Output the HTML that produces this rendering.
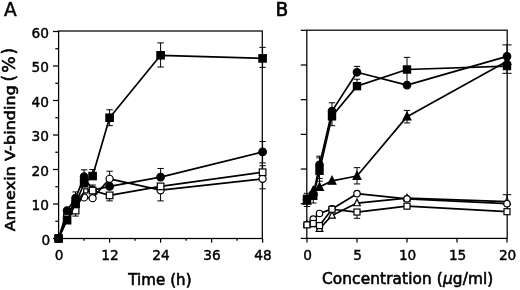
<!DOCTYPE html>
<html><head><meta charset="utf-8"><title>Figure</title>
<style>html,body{margin:0;padding:0;background:#fff}svg{display:block;will-change:transform}</style>
</head><body>
<svg width="520" height="290" viewBox="0 0 520 290" font-family="'DejaVu Sans', 'Liberation Sans', sans-serif" fill="#000" stroke="#000" stroke-width="0">
<rect width="520" height="290" fill="#fff"/>
<rect x="58.60" y="31.00" width="203.70" height="207.50" fill="none" stroke="#000" stroke-width="1.25"/>
<line x1="53.00" y1="238.50" x2="58.60" y2="238.50" stroke="#000" stroke-width="1.25"/>
<text x="50.2" y="244.70" font-size="13.7" text-anchor="end" stroke-width="0.42">0</text>
<line x1="55.30" y1="221.25" x2="58.60" y2="221.25" stroke="#000" stroke-width="1.25"/>
<line x1="53.00" y1="204.00" x2="58.60" y2="204.00" stroke="#000" stroke-width="1.25"/>
<text x="49.0" y="210.20" font-size="13.7" text-anchor="end" stroke-width="0.42">10</text>
<line x1="55.30" y1="186.75" x2="58.60" y2="186.75" stroke="#000" stroke-width="1.25"/>
<line x1="53.00" y1="169.50" x2="58.60" y2="169.50" stroke="#000" stroke-width="1.25"/>
<text x="49.0" y="175.70" font-size="13.7" text-anchor="end" stroke-width="0.42">20</text>
<line x1="55.30" y1="152.25" x2="58.60" y2="152.25" stroke="#000" stroke-width="1.25"/>
<line x1="53.00" y1="135.00" x2="58.60" y2="135.00" stroke="#000" stroke-width="1.25"/>
<text x="49.0" y="141.20" font-size="13.7" text-anchor="end" stroke-width="0.42">30</text>
<line x1="55.30" y1="117.75" x2="58.60" y2="117.75" stroke="#000" stroke-width="1.25"/>
<line x1="53.00" y1="100.50" x2="58.60" y2="100.50" stroke="#000" stroke-width="1.25"/>
<text x="49.0" y="106.70" font-size="13.7" text-anchor="end" stroke-width="0.42">40</text>
<line x1="55.30" y1="83.25" x2="58.60" y2="83.25" stroke="#000" stroke-width="1.25"/>
<line x1="53.00" y1="66.00" x2="58.60" y2="66.00" stroke="#000" stroke-width="1.25"/>
<text x="49.0" y="72.20" font-size="13.7" text-anchor="end" stroke-width="0.42">50</text>
<line x1="55.30" y1="48.75" x2="58.60" y2="48.75" stroke="#000" stroke-width="1.25"/>
<line x1="53.00" y1="31.50" x2="58.60" y2="31.50" stroke="#000" stroke-width="1.25"/>
<text x="49.0" y="37.70" font-size="13.7" text-anchor="end" stroke-width="0.42">60</text>
<line x1="58.60" y1="238.50" x2="58.60" y2="242.70" stroke="#000" stroke-width="1.25"/>
<text x="59.00" y="260.4" font-size="13.7" text-anchor="middle" stroke-width="0.42">0</text>
<line x1="84.10" y1="238.50" x2="84.10" y2="240.70" stroke="#000" stroke-width="1.25"/>
<line x1="109.60" y1="238.50" x2="109.60" y2="242.70" stroke="#000" stroke-width="1.25"/>
<text x="110.00" y="260.4" font-size="13.7" text-anchor="middle" stroke-width="0.42">12</text>
<line x1="135.10" y1="238.50" x2="135.10" y2="240.70" stroke="#000" stroke-width="1.25"/>
<line x1="160.60" y1="238.50" x2="160.60" y2="242.70" stroke="#000" stroke-width="1.25"/>
<text x="161.00" y="260.4" font-size="13.7" text-anchor="middle" stroke-width="0.42">24</text>
<line x1="186.10" y1="238.50" x2="186.10" y2="240.70" stroke="#000" stroke-width="1.25"/>
<line x1="211.60" y1="238.50" x2="211.60" y2="242.70" stroke="#000" stroke-width="1.25"/>
<text x="212.00" y="260.4" font-size="13.7" text-anchor="middle" stroke-width="0.42">36</text>
<line x1="237.10" y1="238.50" x2="237.10" y2="240.70" stroke="#000" stroke-width="1.25"/>
<line x1="262.60" y1="238.50" x2="262.60" y2="242.70" stroke="#000" stroke-width="1.25"/>
<text x="263.00" y="260.4" font-size="13.7" text-anchor="middle" stroke-width="0.42">48</text>
<rect x="306.80" y="30.20" width="200.40" height="208.20" fill="none" stroke="#000" stroke-width="1.25"/>
<line x1="300.80" y1="238.40" x2="306.80" y2="238.40" stroke="#000" stroke-width="1.25"/>
<line x1="300.80" y1="203.72" x2="306.80" y2="203.72" stroke="#000" stroke-width="1.25"/>
<line x1="300.80" y1="169.04" x2="306.80" y2="169.04" stroke="#000" stroke-width="1.25"/>
<line x1="300.80" y1="134.36" x2="306.80" y2="134.36" stroke="#000" stroke-width="1.25"/>
<line x1="300.80" y1="99.68" x2="306.80" y2="99.68" stroke="#000" stroke-width="1.25"/>
<line x1="300.80" y1="65.00" x2="306.80" y2="65.00" stroke="#000" stroke-width="1.25"/>
<line x1="300.80" y1="30.32" x2="306.80" y2="30.32" stroke="#000" stroke-width="1.25"/>
<line x1="307.00" y1="238.40" x2="307.00" y2="242.60" stroke="#000" stroke-width="1.25"/>
<text x="307.60" y="260.4" font-size="13.7" text-anchor="middle" stroke-width="0.42">0</text>
<line x1="357.00" y1="238.40" x2="357.00" y2="242.60" stroke="#000" stroke-width="1.25"/>
<text x="357.60" y="260.4" font-size="13.7" text-anchor="middle" stroke-width="0.42">5</text>
<line x1="407.00" y1="238.40" x2="407.00" y2="242.60" stroke="#000" stroke-width="1.25"/>
<text x="407.60" y="260.4" font-size="13.7" text-anchor="middle" stroke-width="0.42">10</text>
<line x1="457.00" y1="238.40" x2="457.00" y2="242.60" stroke="#000" stroke-width="1.25"/>
<text x="457.60" y="260.4" font-size="13.7" text-anchor="middle" stroke-width="0.42">15</text>
<line x1="507.00" y1="238.40" x2="507.00" y2="242.60" stroke="#000" stroke-width="1.25"/>
<text x="507.60" y="260.4" font-size="13.7" text-anchor="middle" stroke-width="0.42">20</text>
<polyline points="58.60,238.50 67.10,214.69 75.60,201.93 84.10,197.44 92.60,198.13 109.60,178.81 160.60,190.20 262.60,178.81" fill="none" stroke="#000" stroke-width="1.7" stroke-linejoin="round"/>
<path d="M109.60,178.81V171.22M106.40,171.22H112.80" stroke="#000" stroke-width="1.0" fill="none"/>
<path d="M160.60,190.20V200.89M157.40,200.89H163.80" stroke="#000" stroke-width="1.0" fill="none"/>
<path d="M262.60,178.81V188.82M259.40,188.82H265.80" stroke="#000" stroke-width="1.0" fill="none"/>
<circle cx="58.60" cy="238.50" r="3.55" fill="#fff" stroke="#000" stroke-width="1.2"/>
<circle cx="67.10" cy="214.69" r="3.55" fill="#fff" stroke="#000" stroke-width="1.2"/>
<circle cx="75.60" cy="201.93" r="3.55" fill="#fff" stroke="#000" stroke-width="1.2"/>
<circle cx="84.10" cy="197.44" r="3.55" fill="#fff" stroke="#000" stroke-width="1.2"/>
<circle cx="92.60" cy="198.13" r="3.55" fill="#fff" stroke="#000" stroke-width="1.2"/>
<circle cx="109.60" cy="178.81" r="3.55" fill="#fff" stroke="#000" stroke-width="1.2"/>
<circle cx="160.60" cy="190.20" r="3.55" fill="#fff" stroke="#000" stroke-width="1.2"/>
<circle cx="262.60" cy="178.81" r="3.55" fill="#fff" stroke="#000" stroke-width="1.2"/>
<polyline points="58.60,238.50 67.10,210.56 75.60,198.13 84.10,176.75 92.60,190.20 109.60,186.41 160.60,177.09 262.60,151.90" fill="none" stroke="#000" stroke-width="1.7" stroke-linejoin="round"/>
<path d="M75.60,198.13V191.93M72.40,191.93H78.80" stroke="#000" stroke-width="1.0" fill="none"/>
<path d="M84.10,176.75V169.84M80.90,169.84H87.30" stroke="#000" stroke-width="1.0" fill="none"/>
<path d="M160.60,177.09V168.46M157.40,168.46H163.80" stroke="#000" stroke-width="1.0" fill="none"/>
<path d="M262.60,151.90V141.56M259.40,141.56H265.80" stroke="#000" stroke-width="1.0" fill="none"/>
<path d="M262.60,151.90V162.94M259.40,162.94H265.80" stroke="#000" stroke-width="1.0" fill="none"/>
<circle cx="58.60" cy="238.50" r="3.80" fill="#000" stroke="#000" stroke-width="1.2"/>
<circle cx="67.10" cy="210.56" r="3.80" fill="#000" stroke="#000" stroke-width="1.2"/>
<circle cx="75.60" cy="198.13" r="3.80" fill="#000" stroke="#000" stroke-width="1.2"/>
<circle cx="84.10" cy="176.75" r="3.80" fill="#000" stroke="#000" stroke-width="1.2"/>
<circle cx="92.60" cy="190.20" r="3.80" fill="#000" stroke="#000" stroke-width="1.2"/>
<circle cx="109.60" cy="186.41" r="3.80" fill="#000" stroke="#000" stroke-width="1.2"/>
<circle cx="160.60" cy="177.09" r="3.80" fill="#000" stroke="#000" stroke-width="1.2"/>
<circle cx="262.60" cy="151.90" r="3.80" fill="#000" stroke="#000" stroke-width="1.2"/>
<polyline points="58.60,238.50 67.10,218.14 75.60,210.56 84.10,191.58 92.60,190.54 109.60,195.38 160.60,186.41 262.60,172.26" fill="none" stroke="#000" stroke-width="1.7" stroke-linejoin="round"/>
<path d="M75.60,210.56V216.07M72.40,216.07H78.80" stroke="#000" stroke-width="1.0" fill="none"/>
<path d="M92.60,190.54V185.03M89.40,185.03H95.80" stroke="#000" stroke-width="1.0" fill="none"/>
<path d="M109.60,195.38V200.89M106.40,200.89H112.80" stroke="#000" stroke-width="1.0" fill="none"/>
<path d="M262.60,172.26V165.70M259.40,165.70H265.80" stroke="#000" stroke-width="1.0" fill="none"/>
<rect x="55.30" y="235.20" width="6.60" height="6.60" fill="#fff" stroke="#000" stroke-width="1.2"/>
<rect x="63.80" y="214.84" width="6.60" height="6.60" fill="#fff" stroke="#000" stroke-width="1.2"/>
<rect x="72.30" y="207.25" width="6.60" height="6.60" fill="#fff" stroke="#000" stroke-width="1.2"/>
<rect x="83.75" y="188.83" width="4.10" height="4.10" fill="#fff" stroke="#000" stroke-width="1.2"/>
<rect x="89.30" y="187.24" width="6.60" height="6.60" fill="#fff" stroke="#000" stroke-width="1.2"/>
<rect x="106.30" y="192.07" width="6.60" height="6.60" fill="#fff" stroke="#000" stroke-width="1.2"/>
<rect x="157.30" y="183.10" width="6.60" height="6.60" fill="#fff" stroke="#000" stroke-width="1.2"/>
<rect x="259.30" y="168.96" width="6.60" height="6.60" fill="#fff" stroke="#000" stroke-width="1.2"/>
<polyline points="58.60,238.50 67.10,220.22 75.60,204.00 84.10,183.30 92.60,176.06 109.60,117.75 160.60,55.30 262.60,58.41" fill="none" stroke="#000" stroke-width="1.7" stroke-linejoin="round"/>
<path d="M92.60,176.06V169.50M89.40,169.50H95.80" stroke="#000" stroke-width="1.0" fill="none"/>
<path d="M109.60,117.75V109.81M106.40,109.81H112.80" stroke="#000" stroke-width="1.0" fill="none"/>
<path d="M109.60,117.75V125.68M106.40,125.68H112.80" stroke="#000" stroke-width="1.0" fill="none"/>
<path d="M160.60,55.30V42.88M157.40,42.88H163.80" stroke="#000" stroke-width="1.0" fill="none"/>
<path d="M160.60,55.30V67.03M157.40,67.03H163.80" stroke="#000" stroke-width="1.0" fill="none"/>
<path d="M262.60,58.41V47.37M259.40,47.37H265.80" stroke="#000" stroke-width="1.0" fill="none"/>
<path d="M262.60,58.41V67.38M259.40,67.38H265.80" stroke="#000" stroke-width="1.0" fill="none"/>
<rect x="54.90" y="234.80" width="7.40" height="7.40" fill="#000" stroke="#000" stroke-width="1.2"/>
<rect x="63.40" y="216.52" width="7.40" height="7.40" fill="#000" stroke="#000" stroke-width="1.2"/>
<rect x="71.90" y="200.30" width="7.40" height="7.40" fill="#000" stroke="#000" stroke-width="1.2"/>
<rect x="80.40" y="179.60" width="7.40" height="7.40" fill="#000" stroke="#000" stroke-width="1.2"/>
<rect x="88.90" y="172.36" width="7.40" height="7.40" fill="#000" stroke="#000" stroke-width="1.2"/>
<rect x="105.90" y="114.05" width="7.40" height="7.40" fill="#000" stroke="#000" stroke-width="1.2"/>
<rect x="156.90" y="51.60" width="7.40" height="7.40" fill="#000" stroke="#000" stroke-width="1.2"/>
<rect x="258.90" y="54.71" width="7.40" height="7.40" fill="#000" stroke="#000" stroke-width="1.2"/>
<polyline points="307.00,224.53 313.25,223.83 319.50,228.69 332.00,215.51 357.00,203.03 407.00,198.17 507.00,201.64" fill="none" stroke="#000" stroke-width="1.7" stroke-linejoin="round"/>
<path d="M507.00,201.64V194.70M502.80,194.70H511.20" stroke="#000" stroke-width="1.0" fill="none"/>
<polygon points="307.00,220.63 303.70,227.23 310.30,227.23" fill="#fff" stroke="#000" stroke-width="1.2"/>
<polygon points="313.25,219.93 309.95,226.53 316.55,226.53" fill="#fff" stroke="#000" stroke-width="1.2"/>
<polygon points="319.50,224.79 316.20,231.39 322.80,231.39" fill="#fff" stroke="#000" stroke-width="1.2"/>
<polygon points="332.00,211.61 328.70,218.21 335.30,218.21" fill="#fff" stroke="#000" stroke-width="1.2"/>
<polygon points="357.00,199.13 353.70,205.73 360.30,205.73" fill="#fff" stroke="#000" stroke-width="1.2"/>
<polygon points="407.00,194.27 403.70,200.87 410.30,200.87" fill="#fff" stroke="#000" stroke-width="1.2"/>
<polygon points="507.00,197.74 503.70,204.34 510.30,204.34" fill="#fff" stroke="#000" stroke-width="1.2"/>
<polyline points="307.00,224.53 313.25,218.98 319.50,213.43 332.00,208.92 357.00,193.66 407.00,198.86 507.00,203.72" fill="none" stroke="#000" stroke-width="1.7" stroke-linejoin="round"/>
<circle cx="307.00" cy="224.53" r="3.20" fill="#fff" stroke="#000" stroke-width="1.2"/>
<circle cx="313.25" cy="218.98" r="3.20" fill="#fff" stroke="#000" stroke-width="1.2"/>
<circle cx="319.50" cy="213.43" r="3.20" fill="#fff" stroke="#000" stroke-width="1.2"/>
<circle cx="332.00" cy="208.92" r="3.20" fill="#fff" stroke="#000" stroke-width="1.2"/>
<circle cx="357.00" cy="193.66" r="3.20" fill="#fff" stroke="#000" stroke-width="1.2"/>
<circle cx="407.00" cy="198.86" r="3.20" fill="#fff" stroke="#000" stroke-width="1.2"/>
<circle cx="507.00" cy="203.72" r="3.20" fill="#fff" stroke="#000" stroke-width="1.2"/>
<polyline points="307.00,224.87 313.25,223.49 319.50,225.57 332.00,209.27 357.00,212.04 407.00,206.15 507.00,211.70" fill="none" stroke="#000" stroke-width="1.7" stroke-linejoin="round"/>
<path d="M357.00,212.04V218.29M353.80,218.29H360.20" stroke="#000" stroke-width="1.0" fill="none"/>
<rect x="304.00" y="221.87" width="6.00" height="6.00" fill="#fff" stroke="#000" stroke-width="1.2"/>
<rect x="310.25" y="220.49" width="6.00" height="6.00" fill="#fff" stroke="#000" stroke-width="1.2"/>
<rect x="316.50" y="222.57" width="6.00" height="6.00" fill="#fff" stroke="#000" stroke-width="1.2"/>
<rect x="329.00" y="206.27" width="6.00" height="6.00" fill="#fff" stroke="#000" stroke-width="1.2"/>
<rect x="354.00" y="209.04" width="6.00" height="6.00" fill="#fff" stroke="#000" stroke-width="1.2"/>
<rect x="404.00" y="203.15" width="6.00" height="6.00" fill="#fff" stroke="#000" stroke-width="1.2"/>
<rect x="504.00" y="208.70" width="6.00" height="6.00" fill="#fff" stroke="#000" stroke-width="1.2"/>
<polyline points="307.00,200.95 313.25,190.89 319.50,187.07 332.00,180.83 357.00,175.98 407.00,116.67 507.00,61.19" fill="none" stroke="#000" stroke-width="1.7" stroke-linejoin="round"/>
<path d="M319.50,187.07V178.40M316.30,178.40H322.70" stroke="#000" stroke-width="1.0" fill="none"/>
<path d="M357.00,175.98V167.65M353.80,167.65H360.20" stroke="#000" stroke-width="1.0" fill="none"/>
<path d="M357.00,175.98V183.95M353.80,183.95H360.20" stroke="#000" stroke-width="1.0" fill="none"/>
<path d="M407.00,116.67V110.43M403.80,110.43H410.20" stroke="#000" stroke-width="1.0" fill="none"/>
<path d="M407.00,116.67V122.92M403.80,122.92H410.20" stroke="#000" stroke-width="1.0" fill="none"/>
<polygon points="307.00,196.45 303.10,204.25 310.90,204.25" fill="#000" stroke="#000" stroke-width="1.2"/>
<polygon points="313.25,186.39 309.35,194.19 317.15,194.19" fill="#000" stroke="#000" stroke-width="1.2"/>
<polygon points="319.50,182.57 315.60,190.37 323.40,190.37" fill="#000" stroke="#000" stroke-width="1.2"/>
<polygon points="332.00,176.33 328.10,184.13 335.90,184.13" fill="#000" stroke="#000" stroke-width="1.2"/>
<polygon points="357.00,171.48 353.10,179.28 360.90,179.28" fill="#000" stroke="#000" stroke-width="1.2"/>
<polygon points="407.00,112.17 403.10,119.97 410.90,119.97" fill="#000" stroke="#000" stroke-width="1.2"/>
<polygon points="507.00,56.69 503.10,64.49 510.90,64.49" fill="#000" stroke="#000" stroke-width="1.2"/>
<polyline points="307.00,199.56 313.25,195.05 319.50,164.88 332.00,111.12 357.00,72.28 407.00,85.11 507.00,56.33" fill="none" stroke="#000" stroke-width="1.7" stroke-linejoin="round"/>
<path d="M319.50,164.88V156.21M316.30,156.21H322.70" stroke="#000" stroke-width="1.0" fill="none"/>
<path d="M332.00,111.12V102.80M328.80,102.80H335.20" stroke="#000" stroke-width="1.0" fill="none"/>
<path d="M357.00,72.28V66.39M353.80,66.39H360.20" stroke="#000" stroke-width="1.0" fill="none"/>
<path d="M407.00,85.11V71.24M403.80,71.24H410.20" stroke="#000" stroke-width="1.0" fill="none"/>
<path d="M507.00,56.33V44.89M502.40,44.89H511.60" stroke="#000" stroke-width="1.0" fill="none"/>
<circle cx="307.00" cy="199.56" r="3.75" fill="#000" stroke="#000" stroke-width="1.2"/>
<circle cx="313.25" cy="195.05" r="3.75" fill="#000" stroke="#000" stroke-width="1.2"/>
<circle cx="319.50" cy="164.88" r="3.75" fill="#000" stroke="#000" stroke-width="1.2"/>
<circle cx="332.00" cy="111.12" r="3.75" fill="#000" stroke="#000" stroke-width="1.2"/>
<circle cx="357.00" cy="72.28" r="3.75" fill="#000" stroke="#000" stroke-width="1.2"/>
<circle cx="407.00" cy="85.11" r="3.75" fill="#000" stroke="#000" stroke-width="1.2"/>
<circle cx="507.00" cy="56.33" r="3.75" fill="#000" stroke="#000" stroke-width="1.2"/>
<polyline points="307.00,198.86 313.25,195.74 319.50,170.77 332.00,116.33 357.00,86.15 407.00,69.51 507.00,66.04" fill="none" stroke="#000" stroke-width="1.7" stroke-linejoin="round"/>
<path d="M307.00,198.86V193.32M303.80,193.32H310.20" stroke="#000" stroke-width="1.0" fill="none"/>
<path d="M307.00,198.86V206.49M303.80,206.49H310.20" stroke="#000" stroke-width="1.0" fill="none"/>
<path d="M313.25,195.74V203.03M310.05,203.03H316.45" stroke="#000" stroke-width="1.0" fill="none"/>
<path d="M319.50,170.77V157.94M316.30,157.94H322.70" stroke="#000" stroke-width="1.0" fill="none"/>
<path d="M319.50,170.77V181.18M316.30,181.18H322.70" stroke="#000" stroke-width="1.0" fill="none"/>
<path d="M332.00,116.33V125.69M328.80,125.69H335.20" stroke="#000" stroke-width="1.0" fill="none"/>
<path d="M357.00,86.15V79.22M353.80,79.22H360.20" stroke="#000" stroke-width="1.0" fill="none"/>
<path d="M407.00,69.51V57.37M403.80,57.37H410.20" stroke="#000" stroke-width="1.0" fill="none"/>
<path d="M507.00,66.04V73.32M502.40,73.32H511.60" stroke="#000" stroke-width="1.0" fill="none"/>
<rect x="303.40" y="195.26" width="7.20" height="7.20" fill="#000" stroke="#000" stroke-width="1.2"/>
<rect x="309.65" y="192.14" width="7.20" height="7.20" fill="#000" stroke="#000" stroke-width="1.2"/>
<rect x="315.90" y="167.17" width="7.20" height="7.20" fill="#000" stroke="#000" stroke-width="1.2"/>
<rect x="328.40" y="112.73" width="7.20" height="7.20" fill="#000" stroke="#000" stroke-width="1.2"/>
<rect x="353.40" y="82.55" width="7.20" height="7.20" fill="#000" stroke="#000" stroke-width="1.2"/>
<rect x="403.40" y="65.91" width="7.20" height="7.20" fill="#000" stroke="#000" stroke-width="1.2"/>
<rect x="503.40" y="62.44" width="7.20" height="7.20" fill="#000" stroke="#000" stroke-width="1.2"/>
<text x="3.9" y="16.0" font-size="18.6" stroke-width="0.45">A</text>
<text x="275.6" y="16.0" font-size="18.6" stroke-width="0.6">B</text>
<text x="128.3" y="284.9" font-size="15" stroke-width="0.6" textLength="63.2" lengthAdjust="spacing">Time (h)</text>
<text x="322.0" y="283.5" font-size="15.3" stroke-width="0.6" textLength="171.3" lengthAdjust="spacing">Concentration (<tspan font-style="italic">µ</tspan>g/ml)</text>
<text transform="translate(15.3,231.2) rotate(-90) scale(1.075,1)" font-size="14.7" stroke-width="0.58" textLength="135.8" lengthAdjust="spacing">Annexin V-binding</text>
<text transform="translate(15.3,81.4) rotate(-90) scale(1.17,1.2)" font-size="14.7" stroke-width="0.48" textLength="28.8" lengthAdjust="spacing">(%)</text>
</svg>
</body></html>
